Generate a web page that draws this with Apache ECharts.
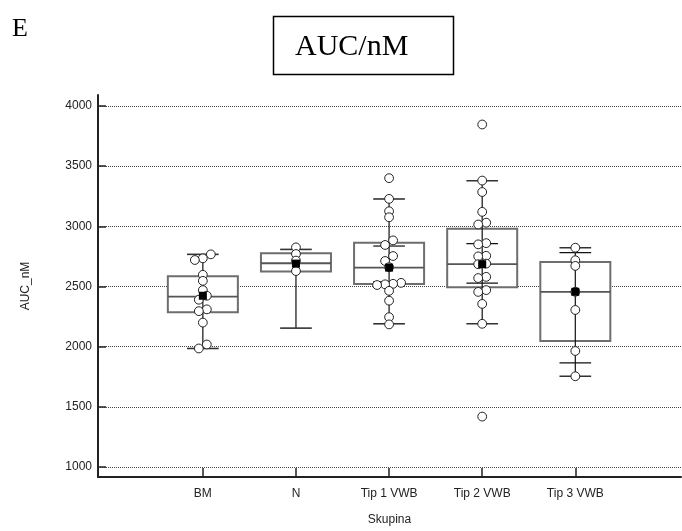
<!DOCTYPE html>
<html>
<head>
<meta charset="utf-8">
<style>
  html, body { margin: 0; padding: 0; background: #fff; }
  #chart { width: 682px; height: 531px; }
</style>
<script src="https://cdn.jsdelivr.net/npm/echarts@6/dist/echarts.min.js"></script>
</head>
<body>
<div id="chart"></div>
<script>
// ---- data ----
const categories = ['BM', 'N', 'Tip 1 VWB', 'Tip 2 VWB', 'Tip 3 VWB'];
const yTicks = [1000, 1500, 2000, 2500, 3000, 3500, 4000];

const bmValues   = [2767, 2734, 2720, 2597, 2547, 2470, 2423, 2390, 2310, 2295, 2200, 2018, 1985];
const nValues    = [2825, 2770, 2715, 2628];
const tip1Values = [3400, 3228, 3125, 3075, 2883, 2845, 2753, 2712, 2660, 2530, 2522, 2518, 2512, 2464, 2382, 2245, 2185];
const tip2Values = [3846, 3380, 3285, 3120, 3030, 3015, 2860, 2850, 2755, 2750, 2690, 2685, 2580, 2570, 2470, 2455, 2355, 2190, 1419];
const tip3Values = [2822, 2718, 2671, 2456, 2305, 1964, 1754];

const whiskerLow  = [1985, 2154, 2190, 2190, 1754];
const q1          = [2286, 2625, 2520, 2493, 2047];
const median      = [2415, 2693, 2657, 2685, 2456];
const q3          = [2586, 2776, 2864, 2980, 2704];
const whiskerHigh = [2767, 2808, 3227, 3378, 2822];
const mean        = [2423, 2690, 2657, 2685, 2456];
const ciLow       = [null, null, 2539, 2528, 1865];
const ciHigh      = [null, null, 2836, 2856, 2781];

const groupValues = [bmValues, nValues, tip1Values, tip2Values, tip3Values];

// ---- layout constants ----
const X_MIN = -1.126, X_MAX = 5.135;
const Y_MIN = 917, Y_MAX = 4091;
const GRID = { left: 98, right: 1, top: 95, bottom: 52 };
const pxPerUnitY = (531 - GRID.top - GRID.bottom) / (Y_MAX - Y_MIN);
const STEP_PX = 8;

// cluster near-equal values and spread each cluster symmetrically (in slot units)
function spread(values) {
  const idx = values.map((v, k) => k).sort((a, b) => values[b] - values[a]);
  const slots = new Array(values.length).fill(0);
  let cluster = [];
  const flush = () => {
    const asc = cluster.slice().sort((a, b) => values[a] - values[b]);
    asc.forEach((k, j) => { slots[k] = j - (asc.length - 1) / 2; });
    cluster = [];
  };
  idx.forEach(k => {
    if (cluster.length && (values[cluster[cluster.length - 1]] - values[k]) * pxPerUnitY > 5.1) flush();
    cluster.push(k);
  });
  if (cluster.length) flush();
  return slots;
}

const pointData = [];
groupValues.forEach((vals, g) => {
  const slots = spread(vals);
  vals.forEach((v, k) => pointData.push([g, v, slots[k]]));
});

const boxData = categories.map((c, i) => [i, whiskerLow[i], q1[i], median[i], q3[i], whiskerHigh[i]]);
const meanData = categories.map((c, i) => [i, mean[i]]);

function renderBox(params, api) {
  const i = params.dataIndex;
  const unit = api.size([1, 0])[0];
  const half = unit * 0.376;
  const capHalf = unit * 0.17;
  const pLow = api.coord([i, whiskerLow[i]]);
  const pQ1 = api.coord([i, q1[i]]);
  const pMed = api.coord([i, median[i]]);
  const pQ3 = api.coord([i, q3[i]]);
  const pHigh = api.coord([i, whiskerHigh[i]]);
  const x = pMed[0];
  const children = [
    { type: 'rect', shape: { x: x - half, y: pQ3[1], width: 2 * half, height: pQ1[1] - pQ3[1] },
      style: { fill: '#fff', stroke: '#6e6e6e', lineWidth: 2 } },
    { type: 'line', shape: { x1: x, y1: pLow[1], x2: x, y2: pHigh[1] },
      style: { stroke: '#111', lineWidth: 1.2 } },
    { type: 'line', shape: { x1: x - half, y1: pMed[1], x2: x + half, y2: pMed[1] },
      style: { stroke: '#555', lineWidth: 1.8 } },
    { type: 'line', shape: { x1: x - capHalf, y1: pLow[1], x2: x + capHalf, y2: pLow[1] },
      style: { stroke: '#333', lineWidth: 1.6 } },
    { type: 'line', shape: { x1: x - capHalf, y1: pHigh[1], x2: x + capHalf, y2: pHigh[1] },
      style: { stroke: '#333', lineWidth: 1.6 } }
  ];
  if (ciLow[i] != null) {
    const a = api.coord([i, ciLow[i]]), b = api.coord([i, ciHigh[i]]);
    children.push({ type: 'line', shape: { x1: x - capHalf, y1: a[1], x2: x + capHalf, y2: a[1] },
      style: { stroke: '#111', lineWidth: 1.2 } });
    children.push({ type: 'line', shape: { x1: x - capHalf, y1: b[1], x2: x + capHalf, y2: b[1] },
      style: { stroke: '#111', lineWidth: 1.2 } });
  }
  return { type: 'group', children };
}

function renderPoint(params, api) {
  const p = api.coord([api.value(0), api.value(1)]);
  const s = api.value(2);
  return { type: 'circle', shape: { cx: p[0] + s * STEP_PX, cy: p[1], r: 4.4 },
    style: { fill: '#fff', stroke: '#222', lineWidth: 1 } };
}

const font = 'Liberation Sans, Arial, sans-serif';
const chart = echarts.init(document.getElementById('chart'), null, { renderer: 'canvas' });
chart.setOption({
  animation: false,
  backgroundColor: '#fff',
  grid: { left: GRID.left, right: GRID.right, top: GRID.top, bottom: GRID.bottom, containLabel: false },
  xAxis: {
    type: 'value', min: X_MIN, max: X_MAX,
    axisLine: { show: true, onZero: false, lineStyle: { color: '#222', width: 2 } },
    axisTick: { show: true, inside: true, length: 9, customValues: [0, 1, 2, 3, 4], lineStyle: { color: '#222', width: 1.5 } },
    axisLabel: { customValues: [0, 1, 2, 3, 4], formatter: v => categories[Math.round(v)] || '',
      fontFamily: font, fontSize: 12, color: '#222', margin: 11 },
    splitLine: { show: false },
    name: 'Skupina', nameLocation: 'middle', nameGap: 37,
    nameTextStyle: { fontFamily: font, fontSize: 12, color: '#222' }
  },
  yAxis: {
    type: 'value', min: Y_MIN, max: Y_MAX,
    axisLine: { show: true, onZero: false, lineStyle: { color: '#222', width: 2 } },
    axisTick: { show: true, inside: true, length: 8, customValues: yTicks, lineStyle: { color: '#222', width: 1.5 } },
    axisLabel: { customValues: yTicks, formatter: v => String(v), fontFamily: font, fontSize: 12, color: '#222', margin: 6 },
    splitLine: { show: true, lineStyle: { type: [1, 1], color: '#444', width: 1 } },
    name: 'AUC_nM', nameLocation: 'middle', nameGap: 66, nameRotate: 90,
    nameTextStyle: { fontFamily: font, fontSize: 12, color: '#222' }
  },
  series: [
    { type: 'custom', renderItem: renderBox, data: boxData, encode: { x: 0, y: [1, 2, 3, 4, 5] }, z: 2, silent: true },
    { type: 'custom', renderItem: renderPoint, data: pointData, encode: { x: 0, y: 1 }, z: 3, silent: true },
    { type: 'scatter', data: meanData, symbol: 'rect', symbolSize: 8, itemStyle: { color: '#000', opacity: 1 }, z: 4, silent: true }
  ],
  graphic: [
    { type: 'text', left: 12, top: 16, style: { text: 'E', font: '26px "Liberation Serif", "Times New Roman", serif', fill: '#000' } },
    { type: 'rect', shape: { x: 273.5, y: 16.5, width: 180, height: 58 }, style: { fill: 'none', stroke: '#000', lineWidth: 1.5 } },
    { type: 'text', x: 295, y: 47, style: { text: 'AUC/nM', font: '30px "Liberation Serif", "Times New Roman", serif', fill: '#000', verticalAlign: 'middle' } }
  ]
});
</script>
</body>
</html>
